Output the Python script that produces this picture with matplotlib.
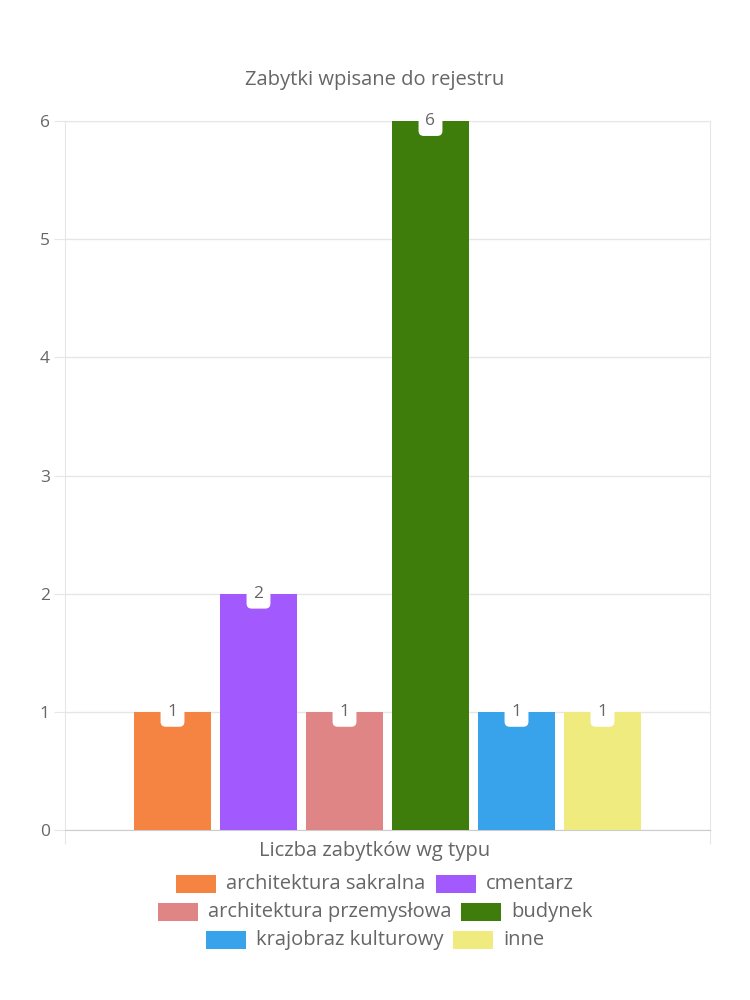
import matplotlib
matplotlib.use("Agg")
import matplotlib.pyplot as plt
from matplotlib.patches import Rectangle

# data
types = ['architektura sakralna', 'cmentarz', 'architektura przemysłowa',
         'budynek', 'krajobraz kulturowy', 'inne']
counts = [1, 2, 1, 6, 1, 1]
colors = ['#f58442', '#a259fd', '#e08585', '#3e7d0c', '#38a3ea', '#f0eb7f']
yticks = [0, 1, 2, 3, 4, 5, 6]
title = 'Zabytki wpisane do rejestru'
xlabel = 'Liczba zabytków wg typu'

plt.rcParams['font.family'] = ['Open Sans', 'DejaVu Sans']
txt = '#666666'
grid = '#e6e6e6'

W, H = 750, 1000
fig = plt.figure(figsize=(W / 100, H / 100), dpi=100)
# plot area in pixels: x 65..710, y 121..830
ax = fig.add_axes([65 / W, 1 - 830 / H, (710 - 65) / W, (830 - 121) / H])

n = len(counts)
slot = 0.8 / n
for i, (c, col) in enumerate(zip(counts, colors)):
    x = (i - (n - 1) / 2) * slot
    ax.bar(x, c, width=slot * 0.9, color=col, zorder=3)
    ax.text(x, c, str(c), ha='center', va='center', fontsize=12.5, color=txt, zorder=5,
            bbox=dict(boxstyle='round,pad=0.4,rounding_size=0.3', fc='white', ec='none'))

ax.set_xlim(-0.5, 0.5)
ax.set_ylim(0, 6)
ax.set_yticks(yticks)
ax.set_yticklabels([str(t) for t in yticks], fontsize=12.5, color=txt)
ax.tick_params(axis='y', length=8, color=grid, pad=3)
ax.set_xticks([-0.5, 0.5])
ax.set_xticklabels(['', ''])
ax.tick_params(axis='x', length=10, color=grid)
ax.grid(axis='y', color=grid, linewidth=1, zorder=0)
for s in ['top', 'right', 'left']:
    ax.spines[s].set_color(grid)
ax.spines['bottom'].set_color('#cccccc')

fig.text(0.5, 1 - 80 / H, title, ha='center', va='center', fontsize=14.5, color=txt)
fig.text(0.5, 1 - 851 / H, xlabel, ha='center', va='center', fontsize=14.5, color=txt)

# legend rows, centered, laid out in pixel units
fig.canvas.draw()
r = fig.canvas.get_renderer()
rows = [[0, 1], [2, 3], [4, 5]]
row_y = [884, 912, 940]
box_w, box_h, gap_in, gap_out = 40, 18, 10, 10
for row, yy in zip(rows, row_y):
    widths = []
    for k in row:
        t = fig.text(0, 0, types[k], fontsize=14.5)
        widths.append(t.get_window_extent(r).width)
        t.remove()
    total = sum(box_w + gap_in + w for w in widths) + gap_out * (len(row) - 1)
    x0 = (W - total) / 2
    for k, w in zip(row, widths):
        fig.patches.append(Rectangle((x0 / W, 1 - (yy + box_h / 2) / H), box_w / W, box_h / H,
                                     transform=fig.transFigure, fc=colors[k], ec='none'))
        fig.text((x0 + box_w + gap_in) / W, 1 - yy / H, types[k], ha='left', va='center',
                 fontsize=14.5, color=txt)
        x0 += box_w + gap_in + w + gap_out

fig.savefig('out.png', dpi=100)
